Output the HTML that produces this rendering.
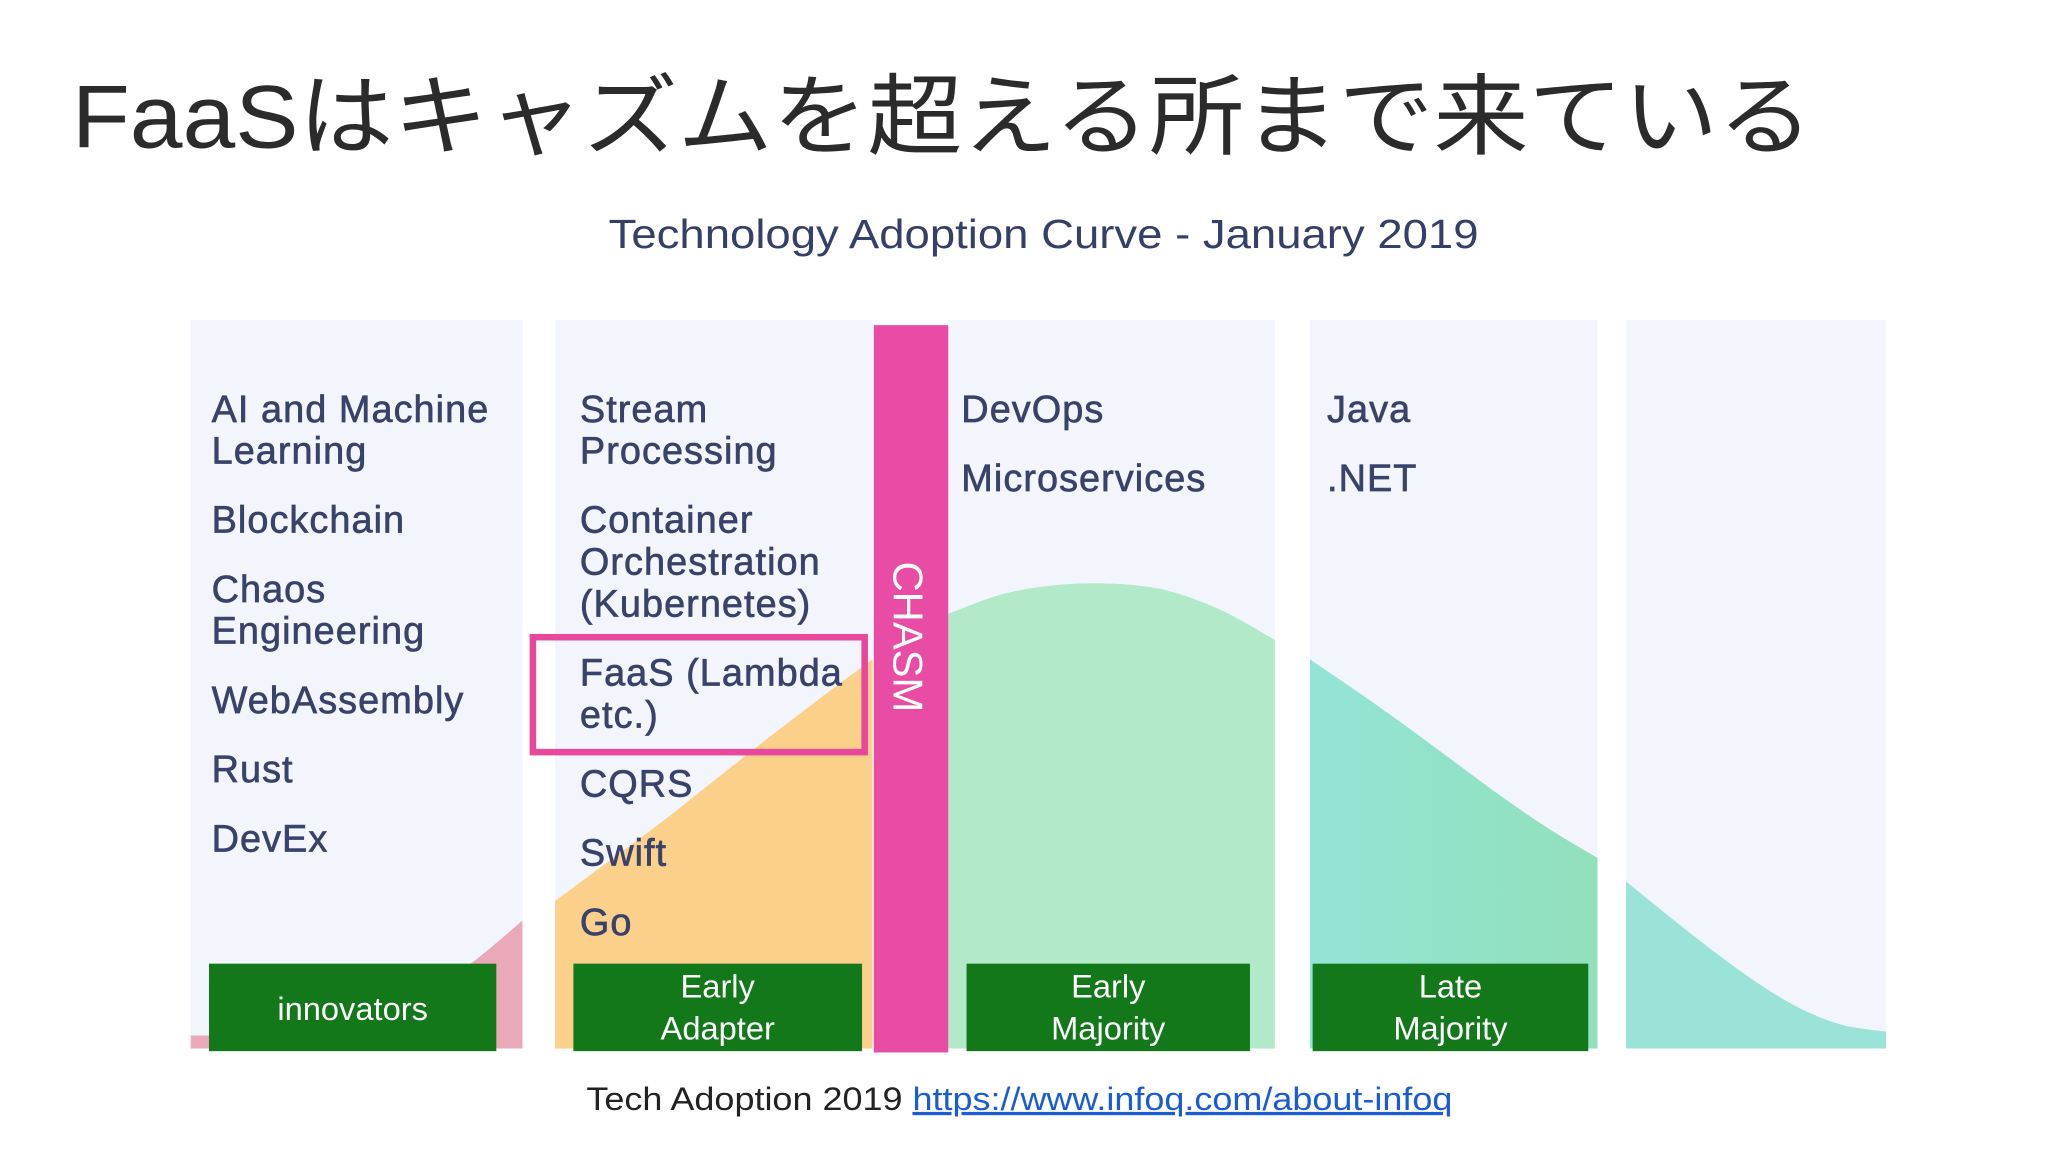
<!DOCTYPE html>
<html><head><meta charset="utf-8">
<style>
html,body{margin:0;padding:0;background:#fff;}
svg{display:block;}
.t{font-family:"Liberation Sans","DejaVu Sans",sans-serif;fill:#39426a;font-size:29px;letter-spacing:0.8px;}
.g{font-family:"Liberation Sans",sans-serif;fill:#fff;font-size:25px;}
</style></head>
<body>
<svg id="s" width="2048" height="1153" viewBox="0 0 1568 883" preserveAspectRatio="none" xmlns="http://www.w3.org/2000/svg">
<defs>
<linearGradient id="lg" x1="0" x2="1" y1="0" y2="0"><stop offset="0" stop-color="#93e4d6"/><stop offset="1" stop-color="#92e0bb"/></linearGradient>
</defs>
<text x="55" y="113" font-size="68" fill="#2b2b2b" font-family="'Liberation Sans','Noto Sans CJK JP',sans-serif" textLength="1333" lengthAdjust="spacingAndGlyphs">FaaSはキャズムを超える所まで来ている</text>
<text x="466" y="190" font-size="31" fill="#34406a" font-family="'Liberation Sans',sans-serif" textLength="666" lengthAdjust="spacingAndGlyphs">Technology Adoption Curve - January 2019</text>
<g id="panels"></g>
<g id="curves"></g>
<rect x="669" y="249" width="57" height="557" fill="#e84ca5"/>
<text transform="translate(684,430) rotate(90)" font-size="32" fill="#fff" font-family="'Liberation Sans',sans-serif">CHASM</text>
<g id="labels"></g>
<rect x="408" y="488" width="254" height="88" fill="none" stroke="#e8489c" stroke-width="5"/>
<g id="stages"></g>
<text x="449" y="850" font-size="25" fill="#222" font-family="'Liberation Sans',sans-serif" textLength="663" lengthAdjust="spacingAndGlyphs">Tech Adoption 2019 <tspan fill="#1a5bd6" text-decoration="underline">https://www.infoq.com/about-infoq</tspan></text>
</svg>
<script>
// panel column ranges (x extent of each adoption stage column)
const panelLeft = [146, 425, 726, 1003, 1245];
const panelRight = [400, 668, 976, 1223, 1444];
// curve heights (y in slide coordinates) sampled evenly across each panel
const curveInnov = [793, 793, 792, 784, 765, 740, 705];
const curveEarlyAd = [690, 660, 630, 598, 566, 535, 505];
const curveEarlyMaj = [470, 455, 448, 447, 452, 467, 490];
const curveLateMaj = [505, 530, 556, 583, 610, 635, 657];
const curveLaggard = [675, 702, 728, 752, 772, 785, 790];
const curveFills = ["#e9a9b8", "#fbd08a", "#b2eac9", "url(#lg)", "#9be3d8"];
const curveNames = ["innovators-curve","early-adopter-curve","early-majority-curve","late-majority-curve","laggards-curve"];
const colTexts = [
  [["AI and Machine",323],["Learning",355],["Blockchain",408],["Chaos",461],["Engineering",493],["WebAssembly",546],["Rust",599],["DevEx",652]],
  [["Stream",323],["Processing",355],["Container",408],["Orchestration",440],["(Kubernetes)",472],["FaaS (Lambda",525],["etc.)",557],["CQRS",610],["Swift",663],["Go",716]],
  [["DevOps",323],["Microservices",376]],
  [["Java",323],[".NET",376]]
];
const colTextX = [162, 444, 736, 1016];
const stageLabels = [["innovators"],["Early","Adapter"],["Early","Majority"],["Late","Majority"]];
const stageBoxX = [160, 439, 740, 1005];
const stageBoxW = [220, 221, 217, 211];
const NS = "http://www.w3.org/2000/svg";
const P = document.getElementById('panels'), C = document.getElementById('curves'), L = document.getElementById('labels'), S = document.getElementById('stages');
const curves = [curveInnov, curveEarlyAd, curveEarlyMaj, curveLateMaj, curveLaggard];
const bottom = 803;
for (let i = 0; i < panelLeft.length; i++) {
  const r = document.createElementNS(NS,'rect');
  
  
  r.setAttribute('x', panelLeft[i]); r.setAttribute('y', 245);
  r.setAttribute('width', panelRight[i]-panelLeft[i]); r.setAttribute('height', bottom-245);
  r.setAttribute('fill', '#f3f5fc');
  P.appendChild(r);
  const v = curves[i], n = v.length, w = panelRight[i]-panelLeft[i];
  const pts = v.map((y,k)=>[panelLeft[i] + w*k/(n-1), y]);
  let d = 'M' + panelLeft[i] + ',' + bottom + ' L' + pts[0][0] + ',' + pts[0][1];
  for (let k = 0; k < n-1; k++) {
    const p0 = pts[Math.max(k-1,0)], p1 = pts[k], p2 = pts[k+1], p3 = pts[Math.min(k+2,n-1)];
    const c1 = [p1[0] + (p2[0]-p0[0])/6, p1[1] + (p2[1]-p0[1])/6];
    const c2 = [p2[0] - (p3[0]-p1[0])/6, p2[1] - (p3[1]-p1[1])/6];
    d += ' C' + c1 + ' ' + c2 + ' ' + p2;
  }
  d += ' L' + panelRight[i] + ',' + bottom + ' Z';
  const pa = document.createElementNS(NS,'path');
  
  
  pa.setAttribute('d', d); pa.setAttribute('fill', curveFills[i]);
  C.appendChild(pa);
}
colTexts.forEach((col, ci) => {
  col.forEach(([txt, y]) => {
    const t = document.createElementNS(NS,'text');
    
    
    t.setAttribute('class','t'); t.setAttribute('x', colTextX[ci]); t.setAttribute('y', y);
    t.setAttribute('stroke', '#39426a'); t.setAttribute('stroke-width', '0.5');
    t.textContent = txt; L.appendChild(t);
  });
});
stageLabels.forEach((lines, i) => {
  const r = document.createElementNS(NS,'rect');
  
  
  r.setAttribute('x', stageBoxX[i]); r.setAttribute('y', 738);
  r.setAttribute('width', stageBoxW[i]); r.setAttribute('height', 67);
  r.setAttribute('fill', '#12781a'); S.appendChild(r);
  const cx = stageBoxX[i] + stageBoxW[i]/2;
  lines.forEach((ln, k) => {
    const t = document.createElementNS(NS,'text');
    
    
    t.setAttribute('class','g'); t.setAttribute('text-anchor','middle');
    t.setAttribute('x', cx);
    t.setAttribute('y', lines.length === 1 ? 781 : 764 + k*32);
    t.textContent = ln; S.appendChild(t);
  });
});
</script>
</body></html>
